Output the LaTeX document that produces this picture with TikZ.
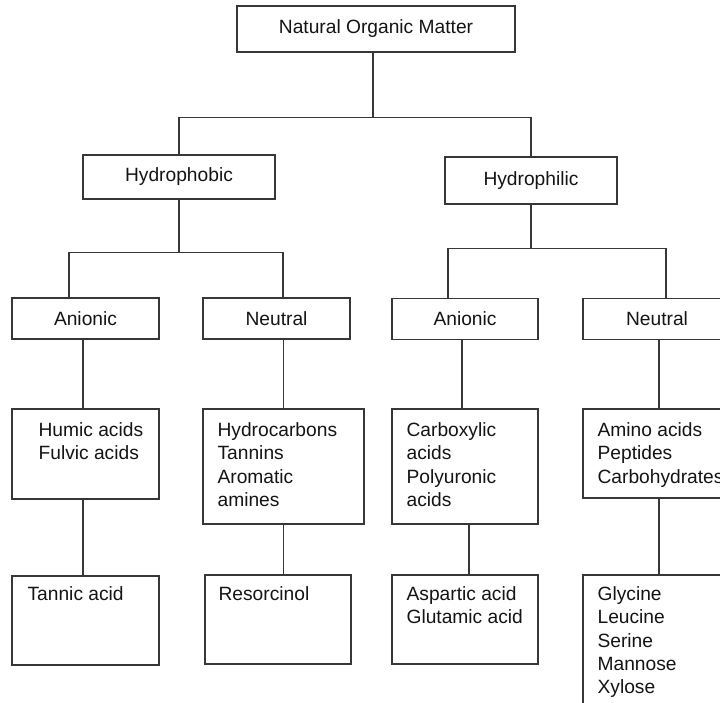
\documentclass[tikz,border=0pt]{standalone}
\usepackage{fontspec}
\setmainfont{Liberation Sans}
\definecolor{linegray}{RGB}{55,55,55}
\definecolor{inkgray}{RGB}{20,20,20}
\usetikzlibrary{calc}

\begin{document}
\begin{tikzpicture}[x=1pt, y=-1pt,
  font=\fontsize{19.2}{23.3}\selectfont,
  box/.style={draw=linegray, line width=1.2pt, text=inkgray, inner sep=0pt},
  catbox/.style={box, minimum height=41pt},
  listtext/.style={text=inkgray, inner sep=0pt, anchor=north west, align=left},
  link/.style={draw=linegray, line width=1.2pt}]
  \useasboundingbox (0,0) rectangle (720,703);
  \clip (0,0) rectangle (720,703);

  % top levels
  \node[box, minimum width=278pt, minimum height=46pt] (nom) at (376,29) {Natural Organic Matter};
  \node[box, minimum width=192pt, minimum height=44pt] (phob) at (179,177) {Hydrophobic};
  \node[box, minimum width=172pt, minimum height=47pt] (phil) at (531,180.5) {Hydrophilic};

  \node[catbox, minimum width=147pt] (an1) at (85.5,318.5) {Anionic};
  \node[catbox, minimum width=147pt] (ne1) at (276.5,318.5) {Neutral};
  \node[catbox, minimum width=146pt] (an2) at (465,319) {Anionic};
  \node[catbox, minimum width=148pt] (ne2) at (657,319) {Neutral};

  % compound lists
  \node[box, minimum width=147pt, minimum height=90pt] (humic) at (85.5,454) {};
  \node[box, minimum width=161pt, minimum height=115pt] (hydro) at (283.5,466.5) {};
  \node[box, minimum width=146pt, minimum height=115pt] (carb) at (465,466.5) {};
  \node[box, minimum width=148pt, minimum height=89pt] (amino) at (657,453.5) {};
  \node[box, minimum width=147pt, minimum height=89pt] (tannic) at (85.5,620.5) {};
  \node[box, minimum width=146pt, minimum height=89pt] (resorc) at (278,619.5) {};
  \node[box, minimum width=146pt, minimum height=89pt] (aspart) at (465,619.5) {};
  \node[box, minimum width=148pt, minimum height=140pt] (glycine) at (657,645) {};

  \node[listtext] (humic-t) at ($(humic.north west)+(27,14)$) {Humic acids\\Fulvic acids};
  \node[listtext] (hydro-t) at ($(hydro.north west)+(15,14)$) {Hydrocarbons\\Tannins\\Aromatic\\amines};
  \node[listtext] (carb-t) at ($(carb.north west)+(15,14)$) {Carboxylic\\acids\\Polyuronic\\acids};
  \node[listtext] (amino-t) at ($(amino.north west)+(15,14)$) {Amino acids\\Peptides\\Carbohydrates};
  \node[listtext] (tannic-t) at ($(tannic.north west)+(16,11)$) {Tannic acid};
  \node[listtext] (resorc-t) at ($(resorc.north west)+(14,12)$) {Resorcinol};
  \node[listtext] (aspart-t) at ($(aspart.north west)+(15,12)$) {Aspartic acid\\Glutamic acid};
  \node[listtext] (glycine-t) at ($(glycine.north west)+(15,12)$) {Glycine\\Leucine\\Serine\\Mannose\\Xylose};

  % connectors
  \draw[link] ([xshift=-3pt]nom.south) -- ++(0,65) coordinate (top-split);
  \draw[link] (phob.north) |- (top-split) -| (phil.north);
  \draw[link] (phob.south) -- ++(0,53) coordinate (phob-split);
  \draw[link] ([xshift=-16.5pt]an1.north) |- (phob-split) -| ([xshift=6.5pt]ne1.north);
  \draw[link] (phil.south) -- ++(0,44) coordinate (phil-split);
  \draw[link] ([xshift=-17pt]an2.north) |- (phil-split) -| ([xshift=9pt]ne2.north);

  \draw[link] ([xshift=-2.5pt]an1.south) -- ([xshift=-2.5pt]humic.north);
  \draw[link] ([xshift=-2.5pt]humic.south) -- ([xshift=-2.5pt]tannic.north);
  \draw[link] (hydro.north) -- (hydro.north |- ne1.south);
  \draw[link] (hydro.south) -- (hydro.south |- resorc.north);
  \draw[link] ([xshift=-3pt]an2.south) -- ([xshift=-3pt]carb.north);
  \draw[link] ([xshift=4pt]carb.south) -- ([xshift=4pt]aspart.north);
  \draw[link] ([xshift=2pt]ne2.south) -- ([xshift=2pt]amino.north);
  \draw[link] ([xshift=2pt]amino.south) -- ([xshift=2pt]glycine.north);
\end{tikzpicture}
\end{document}
